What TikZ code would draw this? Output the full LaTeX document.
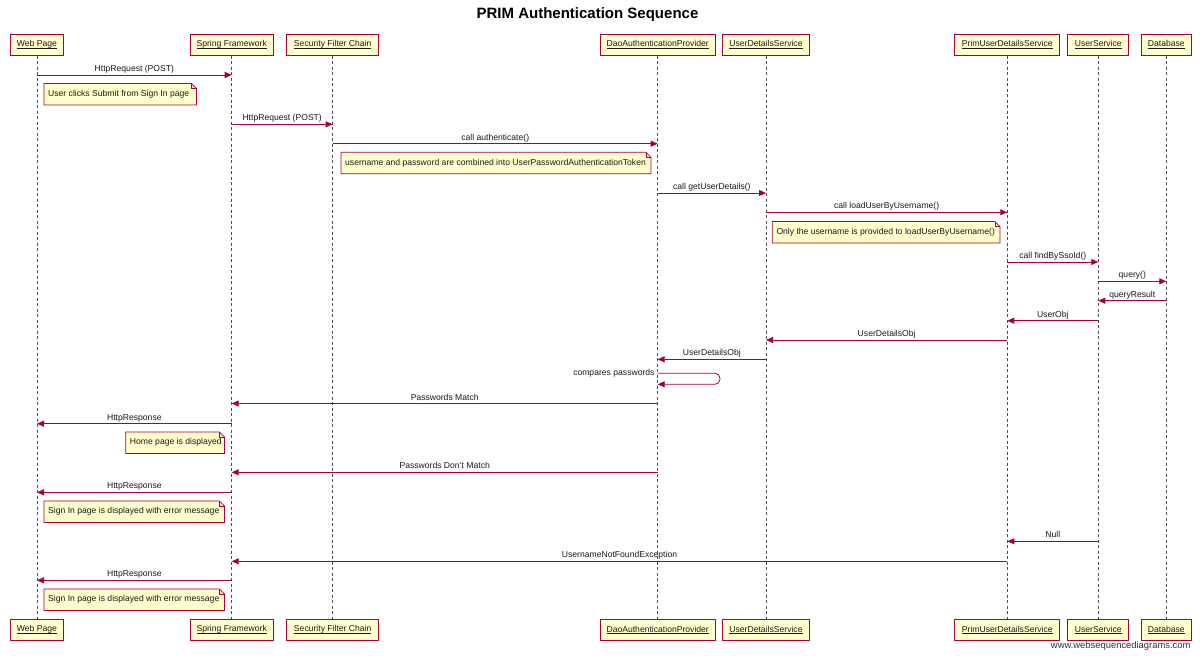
\documentclass[tikz,border=0pt]{standalone}
\usepackage{fontspec}
\setmainfont{Liberation Sans}
\usetikzlibrary{arrows.meta,backgrounds}
\definecolor{seqline}{HTML}{A80036}
\definecolor{boxfill}{HTML}{FEFECE}
\definecolor{notefill}{HTML}{FFFFCC}
\definecolor{inktext}{HTML}{1A1A1A}
% underline that sits just under the baseline
\newcommand\ulname[1]{\setbox0=\hbox{#1}\rlap{\rule[-1.3pt]{\wd0}{0.5pt}}\box0}

\begin{document}
\begin{tikzpicture}[x=1pt,y=-1pt,
  every node/.style={font=\fontsize{8.6}{10}\selectfont, text=inktext},
  actor/.style={draw=seqline, line width=1pt, fill=boxfill, minimum height=21pt, inner sep=0pt},
  lifeline/.style={draw=black!70, line width=0.7pt, dash pattern=on 3pt off 2.5pt},
  msg/.style={draw=seqline, line width=0.8pt, -{Triangle[length=7pt,width=6pt]}},
  lbl/.style={midway, anchor=base, yshift=3.5pt, inner sep=0pt},
  note/.style={anchor=north west, minimum height=21pt, inner xsep=4pt, inner ysep=0pt},
  noteline/.style={draw=seqline, line width=0.8pt, fill=notefill},
]
\useasboundingbox (0,0) rectangle (1200,656);

% title and credit
\node[font=\bfseries\fontsize{15}{18}\selectfont, text=black] (title) at (587.5,15) {PRIM Authentication Sequence};
\node[anchor=east, font=\fontsize{9.4}{11}\selectfont, text=black!80] (credit) at (1194,645.7) {www.websequencediagrams.com};

% participants, top and bottom, joined by their lifelines
\foreach \name/\x/\w/\txt in {
  wp/37/53/Web Page,
  sf/231.7/83/Spring Framework,
  sfc/332.7/92/Security Filter Chain,
  dao/657.7/115/DaoAuthenticationProvider,
  uds/766/87/UserDetailsService,
  pud/1007.3/105/PrimUserDetailsService,
  us/1098.3/61/UserService,
  db/1166.3/50/Database}{
  \node[actor, minimum width=\w pt] (\name) at (\x,44.5) {\ulname{\txt}};
  \node[actor, minimum width=\w pt] (\name-bot) at (\x,629.7) {\ulname{\txt}};
  \draw[lifeline] (\name.south) -- (\name-bot.north);
}

% message rows
\coordinate (r1) at (0,75);
\coordinate (r2) at (0,124.3);
\coordinate (r3) at (0,143.7);
\coordinate (r4) at (0,193);
\coordinate (r5) at (0,212.3);
\coordinate (r6) at (0,262);
\coordinate (r7) at (0,281.3);
\coordinate (r8) at (0,300.7);
\coordinate (r9) at (0,320.7);
\coordinate (r10) at (0,340);
\coordinate (r11) at (0,359.3);
\coordinate (r12) at (0,373.3);
\coordinate (r12b) at (0,384.3);
\coordinate (r13) at (0,403.5);
\coordinate (r14) at (0,423.7);
\coordinate (r15) at (0,472.3);
\coordinate (r16) at (0,492.3);
\coordinate (r17) at (0,541.3);
\coordinate (r18) at (0,561.3);
\coordinate (r19) at (0,580.3);
\coordinate (loopedge) at (720,0);

\draw[msg] (wp |- r1) -- node[lbl]{HttpRequest (POST)} (sf |- r1);
\draw[msg] (sf |- r2) -- node[lbl]{HttpRequest (POST)} (sfc |- r2);
\draw[msg] (sfc |- r3) -- node[lbl]{call authenticate()} (dao |- r3);
\draw[msg] (dao |- r4) -- node[lbl]{call getUserDetails()} (uds |- r4);
\draw[msg] (uds |- r5) -- node[lbl]{call loadUserByUsername()} (pud |- r5);
\draw[msg] (pud |- r6) -- node[lbl]{call findBySsoId()} (us |- r6);
\draw[msg] (us |- r7) -- node[lbl]{query()} (db |- r7);
\draw[msg] (db |- r8) -- node[lbl]{queryResult} (us |- r8);
\draw[msg] (us |- r9) -- node[lbl]{UserObj} (pud |- r9);
\draw[msg] (pud |- r10) -- node[lbl]{UserDetailsObj} (uds |- r10);
\draw[msg] (uds |- r11) -- node[lbl]{UserDetailsObj} (dao |- r11);
\draw[msg, rounded corners=5pt] (dao |- r12) -- (loopedge |- r12) -- (loopedge |- r12b) -- (dao |- r12b);
\node[anchor=east, inner xsep=3pt, inner ysep=0pt] (selflbl) at (dao |- r12) {compares passwords};
\draw[msg] (dao |- r13) -- node[lbl]{Passwords Match} (sf |- r13);
\draw[msg] (sf |- r14) -- node[lbl]{HttpResponse} (wp |- r14);
\draw[msg] (dao |- r15) -- node[lbl]{Passwords Don't Match} (sf |- r15);
\draw[msg] (sf |- r16) -- node[lbl]{HttpResponse} (wp |- r16);
\draw[msg] (us |- r17) -- node[lbl]{Null} (pud |- r17);
\draw[msg] (pud |- r18) -- node[lbl]{UsernameNotFoundException} (sf |- r18);
\draw[msg] (sf |- r19) -- node[lbl]{HttpResponse} (wp |- r19);

% notes
\node[note] (n1) at (44,83.5) {\makebox[144pt][l]{User clicks Submit from Sign In page}};
\node[note] (n2) at (341,152.3) {\makebox[301.5pt][l]{username and password are combined into UserPasswordAuthenticationToken}};
\node[note] (n3) at (772.3,221.5) {\makebox[219.2pt][l]{Only the username is provided to loadUserByUsername()}};
\node[note] (n4) at (125.7,432) {\makebox[90.3pt][l]{Home page is displayed}};
\node[note] (n5) at (44,501) {\makebox[172pt][l]{Sign In page is displayed with error message}};
\node[note] (n6) at (44,589) {\makebox[172pt][l]{Sign In page is displayed with error message}};

% page ground and note outlines with their folded corner, behind the text
\begin{scope}[on background layer]
\fill[white] (0,0) rectangle (1200,656);
\foreach \n in {n1,n2,n3,n4,n5,n6}{
  \path[noteline] (\n.north west) -- ([xshift=-5pt]\n.north east) -- ([yshift=-5pt]\n.north east)
    -- (\n.south east) -- (\n.south west) -- cycle;
  \draw[seqline, line width=0.6pt] ([xshift=-5pt]\n.north east) |- ([yshift=-5pt]\n.north east);
}
\end{scope}
\end{tikzpicture}
\end{document}
